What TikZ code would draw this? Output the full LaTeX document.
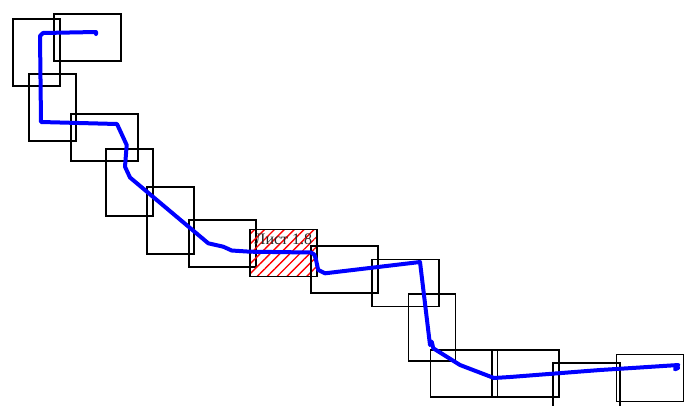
\documentclass[tikz,border=0pt]{standalone}
\usepackage{fontspec}
\newfontfamily\cyrserif{Liberation Serif}
\usetikzlibrary{patterns.meta}
\begin{document}
\begin{tikzpicture}[x=1pt,y=-1pt,
  portbox/.style={draw=black,line width=1.8pt,minimum width=47pt,minimum height=67pt,inner sep=0pt,outer sep=0pt},
  landbox/.style={draw=black,line width=1.5pt,minimum width=67pt,minimum height=47pt,inner sep=0pt,outer sep=0pt},
  hatchbox/.style={landbox,pattern={Lines[angle=45,distance=7pt,line width=1.4pt]},pattern color=red},
  route/.style={draw=blue,line width=4pt,line join=round,line cap=round}]
\useasboundingbox (0,0) rectangle (684,405);
\clip (0,0) rectangle (684,405);
\node[portbox] (r1) at (36.5,52.5) {};
\node[landbox] (r2) at (87.5,37.5) {};
\node[portbox] (r3) at (52.5,107.5) {};
\node[landbox] (r4) at (104.5,137.5) {};
\node[portbox] (r5) at (129.5,182.5) {};
\node[portbox] (r6) at (170.5,220.5) {};
\node[landbox] (r7) at (222.5,243.5) {};
\node[hatchbox] (r8) at (283.5,253) {};
\node[landbox] (r9) at (344.5,269.5) {};
\node[landbox] (r10) at (405.5,283) {};
\node[portbox] (r11) at (432,327.5) {};
\node[landbox] (r12) at (464,373.5) {};
\node[landbox] (r13) at (525.5,373.5) {};
\node[landbox] (r14) at (586.5,386.5) {};
\node[landbox] (r15) at (650,378) {};
\node[anchor=base west,inner sep=0pt,text=black!85,font=\cyrserif\fontsize{16}{18}\selectfont] (lbl) at (254.5,244) {Лист 1.8};
\draw[route] (96,34) -- (96,32) -- (43,33) -- (40,36) -- (41,122) -- (117,124)
  -- (126.7,145) -- (125,166.7) -- (130,177.5) -- (208.3,243.3) -- (223.3,246.7)
  -- (231.7,250.5) -- (250,251.7) -- (311,252.5) .. controls (316,253) and (316,262) .. (318.3,270)
  -- (325,273.3) -- (420,262) -- (430,345) -- (431.7,341.7) -- (433.3,348.3)
  -- (460,365) -- (494,378) -- (510,377) -- (600,370) -- (636.7,367.7)
  -- (678.3,365) -- (675,369.3) -- (678,368);
\end{tikzpicture}
\end{document}
